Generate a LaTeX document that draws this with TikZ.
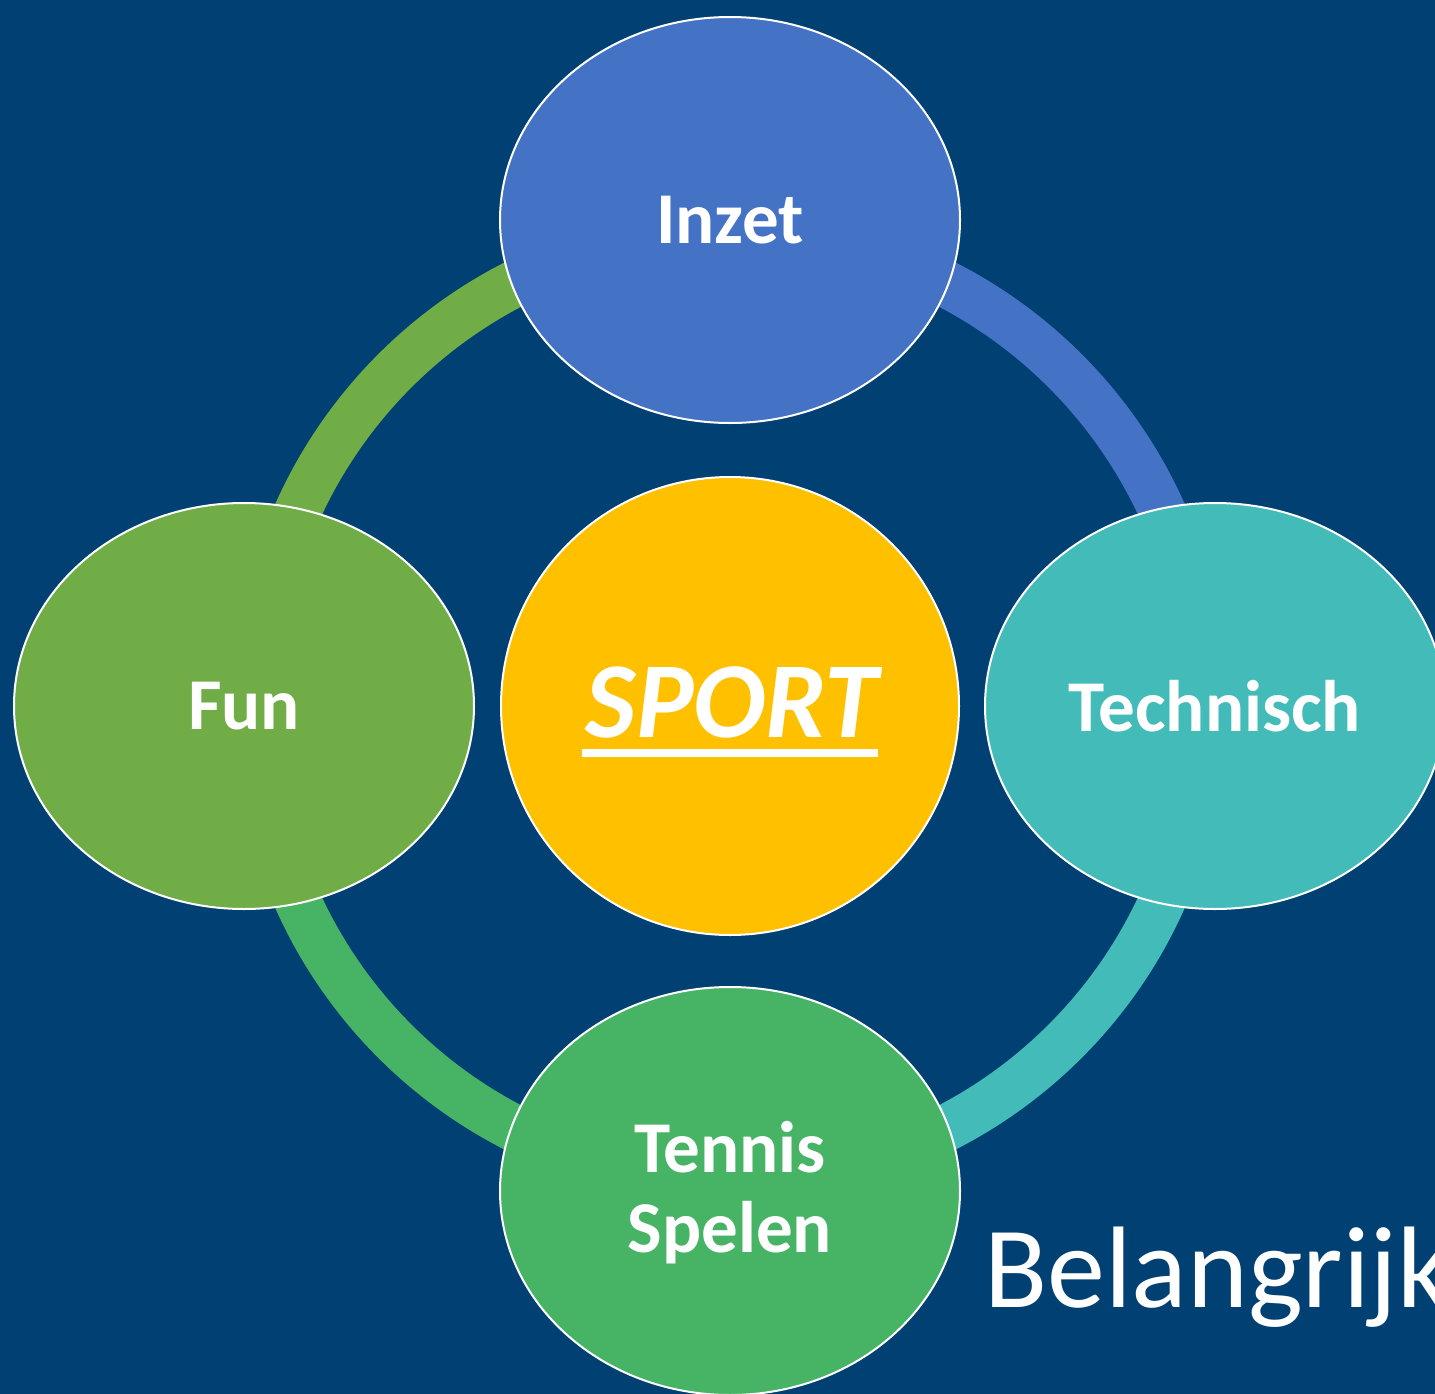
\documentclass[tikz,border=0pt]{standalone}
\usepackage{fontspec}
\setmainfont{Carlito}
\usetikzlibrary{shapes.geometric}
\definecolor{bg}{RGB}{0,64,114}
\definecolor{cblue}{RGB}{68,114,196}
\definecolor{cteal}{RGB}{67,187,185}
\definecolor{cgreen}{RGB}{112,173,71}
\definecolor{cgreenb}{RGB}{71,180,101}
\definecolor{cgold}{RGB}{255,192,0}
\tikzset{
  bubble/.style={ellipse, draw=white, line width=2pt, minimum width=460pt, minimum height=406pt, inner sep=0pt, text=white, font=\fontsize{73}{80}\bfseries\selectfont, align=center},
  ringseg/.style={line width=47pt},
}
\begin{document}
\begin{tikzpicture}[x=1pt,y=-1pt]
\useasboundingbox (0,0) rectangle (1435,1394);
\clip (0,0) rectangle (1435,1394);
\fill[bg] (0,0) rectangle (1435,1394);
\coordinate (c) at (730,706);
% ring
\draw[ringseg, cgreen] ([shift={(c)}]180:474) arc[start angle=180, end angle=270, radius=474];
\draw[ringseg, cblue] ([shift={(c)}]270:474) arc[start angle=270, end angle=360, radius=474];
\draw[ringseg, cteal] ([shift={(c)}]0:474) arc[start angle=0, end angle=90, radius=474];
\draw[ringseg, cgreenb] ([shift={(c)}]90:474) arc[start angle=90, end angle=180, radius=474];
% bubbles
\node[bubble, fill=cblue] (inzet) at (730,220) {Inzet};
\node[bubble, fill=cteal] (tech) at (1215,706) {Technisch};
\node[bubble, fill=cgreen] (fun) at (244,706) {Fun};
\node[bubble, fill=cgreenb, minimum height=408pt] (tennis) at (730,1191) {};
\node[text=white, font=\fontsize{73}{80}\bfseries\selectfont, anchor=base] (t1) at (730,1172) {Tennis};
\node[text=white, font=\fontsize{73}{80}\bfseries\selectfont, anchor=base] (t2) at (730,1252) {Spelen};
\node[circle, draw=white, line width=2pt, fill=cgold, minimum size=458pt, inner sep=0pt] (sport) at (730,706) {};
\node[text=white, font=\fontsize{108}{110}\bfseries\itshape\selectfont, anchor=base, inner sep=0pt] (sporttxt) at (732,737) {SPORT};
\fill[white] (582,749) rectangle (878,757);
\node[text=white, font=\fontsize{116}{120}\selectfont, anchor=base west, inner sep=0pt] (bel) at (984,1307) {Belangrijk};
\end{tikzpicture}
\end{document}
